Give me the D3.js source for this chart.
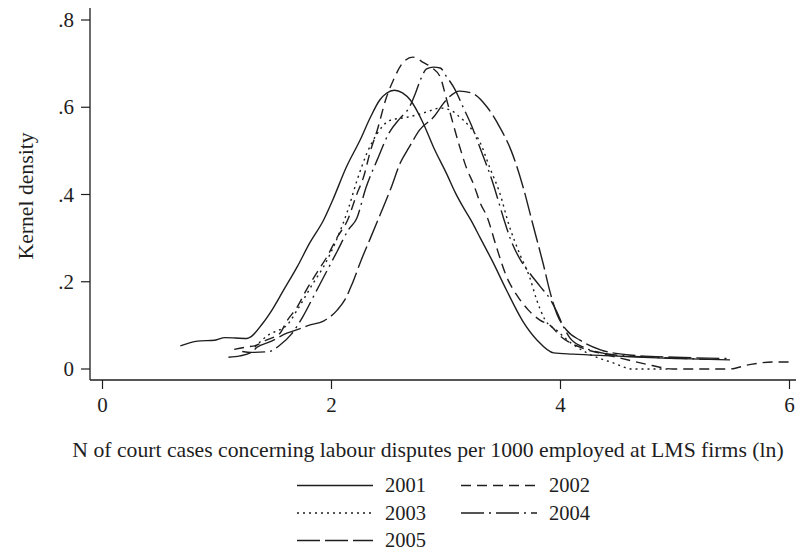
<!DOCTYPE html>
<html>
<head>
<meta charset="utf-8">
<script src="https://cdn.jsdelivr.net/npm/d3@7"></script>
<style>
  body { margin: 0; background: #fff; }
  text { font-family: "Liberation Serif", "Times New Roman", serif; fill: #1e1e1e; }
</style>
</head>
<body>
<div id="chart"></div>
<script>
// kernel density estimates: [ln cases, density]
var d2001 = [[0.68,.053],[0.83,.064],[0.98,.066],[1.07,.072],[1.26,.070],[1.40,.105],[1.48,.135],[1.58,.18],[1.70,.234],[1.81,.289],[1.93,.341],[2.01,.387],[2.13,.463],[2.25,.525],[2.34,.577],[2.42,.616],[2.48,.632],[2.55,.639],[2.62,.633],[2.69,.616],[2.80,.564],[2.89,.509],[3.01,.445],[3.08,.405],[3.15,.371],[3.22,.34],[3.30,.30],[3.40,.25],[3.53,.18],[3.67,.11],[3.80,.065],[3.94,.037],[4.11,.034],[4.46,.030],[4.9,.025],[5.48,.021]]
var d2002 = [[1.15,.045],[1.25,.05],[1.35,.055],[1.43,.066],[1.55,.082],[1.61,.11],[1.70,.142],[1.78,.181],[1.87,.22],[1.96,.257],[2.05,.302],[2.14,.341],[2.22,.40],[2.28,.44],[2.34,.50],[2.40,.548],[2.48,.623],[2.54,.662],[2.62,.701],[2.71,.715],[2.80,.703],[2.88,.69],[2.95,.669],[3.0,.623],[3.06,.564],[3.12,.509],[3.18,.46],[3.24,.424],[3.30,.38],[3.36,.348],[3.44,.28],[3.53,.211],[3.63,.165],[3.72,.135],[3.82,.112],[3.91,.10],[4.0,.075],[4.17,.05],[4.4,.033],[4.6,.02],[4.8,.008],[4.98,0],[5.47,0],[5.65,.01],[5.85,.016],[6.0,.016]]
var d2003 = [[1.33,.05],[1.46,.08],[1.55,.09],[1.61,.10],[1.70,.135],[1.84,.197],[1.93,.234],[2.05,.30],[2.15,.37],[2.22,.43],[2.31,.495],[2.40,.54],[2.51,.57],[2.66,.577],[2.83,.589],[2.95,.598],[3.05,.592],[3.10,.582],[3.21,.554],[3.30,.518],[3.38,.463],[3.47,.403],[3.55,.33],[3.65,.26],[3.73,.211],[3.79,.16],[3.86,.115],[3.97,.088],[4.08,.062],[4.23,.037],[4.46,.014],[4.63,0],[4.96,0]]
var d2004 = [[1.22,.04],[1.3,.038],[1.45,.04],[1.55,.055],[1.65,.08],[1.75,.12],[1.85,.17],[1.95,.22],[2.05,.27],[2.15,.32],[2.22,.345],[2.3,.415],[2.4,.48],[2.5,.54],[2.6,.575],[2.68,.6],[2.73,.63],[2.78,.665],[2.83,.688],[2.89,.692],[2.95,.69],[3.0,.672],[3.08,.64],[3.15,.60],[3.22,.56],[3.3,.505],[3.41,.426],[3.50,.348],[3.56,.30],[3.65,.25],[3.73,.22],[3.82,.19],[3.91,.16],[3.97,.13],[4.02,.1],[4.08,.072],[4.2,.05],[4.4,.035],[4.7,.028],[5.0,.025],[5.3,.022]]
var d2005 = [[1.10,.027],[1.2,.03],[1.3,.038],[1.35,.05],[1.46,.062],[1.61,.082],[1.72,.092],[1.80,.10],[1.93,.11],[2.05,.135],[2.12,.16],[2.18,.195],[2.26,.25],[2.34,.30],[2.43,.357],[2.52,.415],[2.6,.472],[2.68,.509],[2.77,.548],[2.89,.577],[3.0,.616],[3.12,.637],[3.23,.632],[3.36,.60],[3.47,.554],[3.57,.50],[3.67,.42],[3.76,.33],[3.85,.24],[3.91,.175],[3.97,.125],[4.05,.09],[4.17,.066],[4.35,.044],[4.6,.032],[5.0,.027],[5.45,.024]]

var years = ["2001", "2002", "2003", "2004", "2005"]
var seriesData = [d2001, d2002, d2003, d2004, d2005]
var dashes = ["none", "10,6", "2,4", "23,5,2,5", "23,5"]

var xTicks = [0, 2, 4, 6]
var yTicks = [0, .2, .4, .6, .8]
var yTickLabels = ["0", ".2", ".4", ".6", ".8"]

var xLabel = "N of court cases concerning labour disputes per 1000 employed at LMS firms (ln)"
var yLabel = "Kernel density"

var svg = d3.select("#chart").append("svg")
  .attr("width", 796)
  .attr("height", 551)

var x = d3.scaleLinear().domain([0, 6]).range([102.5, 789.5])
var y = d3.scaleLinear().domain([0, .8]).range([369, 20])

var ink = "#1e1e1e"

// axis lines (left and bottom only)
svg.append("line").attr("x1", 90).attr("x2", 90).attr("y1", 8).attr("y2", 380)
  .attr("stroke", ink).attr("stroke-width", 1.3)
svg.append("line").attr("x1", 90).attr("x2", 796).attr("y1", 380).attr("y2", 380)
  .attr("stroke", ink).attr("stroke-width", 1.3)

// y ticks
var yt = svg.selectAll(".ytick").data(yTicks).enter().append("g").attr("class", "ytick")
yt.append("line")
  .attr("x1", 81).attr("x2", 90)
  .attr("y1", function(d) { return y(d) }).attr("y2", function(d) { return y(d) })
  .attr("stroke", ink).attr("stroke-width", 1.2)
yt.append("text")
  .attr("x", 74).attr("y", function(d) { return y(d) + 7 })
  .attr("text-anchor", "end")
  .style("font-size", "21px")
  .text(function(d, i) { return yTickLabels[i] })

// x ticks
var xt = svg.selectAll(".xtick").data(xTicks).enter().append("g").attr("class", "xtick")
xt.append("line")
  .attr("x1", function(d) { return x(d) }).attr("x2", function(d) { return x(d) })
  .attr("y1", 380).attr("y2", 389)
  .attr("stroke", ink).attr("stroke-width", 1.2)
xt.append("text")
  .attr("x", function(d) { return x(d) }).attr("y", 412)
  .attr("text-anchor", "middle")
  .style("font-size", "21px")
  .text(function(d) { return d })

// axis titles
svg.append("text")
  .attr("x", 428).attr("y", 457)
  .attr("text-anchor", "middle")
  .style("font-size", "21.7px")
  .text(xLabel)

svg.append("text")
  .attr("transform", "translate(33,196) rotate(-90)")
  .attr("text-anchor", "middle")
  .style("font-size", "21.7px")
  .text(yLabel)

// density curves
var line = d3.line()
  .x(function(d) { return x(d[0]) })
  .y(function(d) { return y(d[1]) })
  .curve(d3.curveMonotoneX)

svg.selectAll(".curve").data(seriesData).enter().append("path")
  .attr("class", "curve")
  .attr("d", line)
  .attr("fill", "none")
  .attr("stroke", ink)
  .attr("stroke-width", 1.4)
  .attr("stroke-dasharray", function(d, i) { return dashes[i] })

// legend: two columns, three rows
var legend = svg.selectAll(".leg").data(years).enter().append("g")
  .attr("class", "leg")
  .attr("transform", function(d, i) {
    var col = i % 2, row = Math.floor(i / 2)
    return "translate(" + (297 + col * 164) + "," + (485.5 + row * 27.5) + ")"
  })
legend.append("line")
  .attr("x1", 0).attr("x2", 76).attr("y1", 0).attr("y2", 0)
  .attr("stroke", ink).attr("stroke-width", 1.4)
  .attr("stroke-dasharray", function(d, i) { return dashes[i] })
legend.append("text")
  .attr("x", 88).attr("y", 6.5)
  .style("font-size", "20.5px")
  .text(function(d) { return d })
</script>
</body>
</html>
